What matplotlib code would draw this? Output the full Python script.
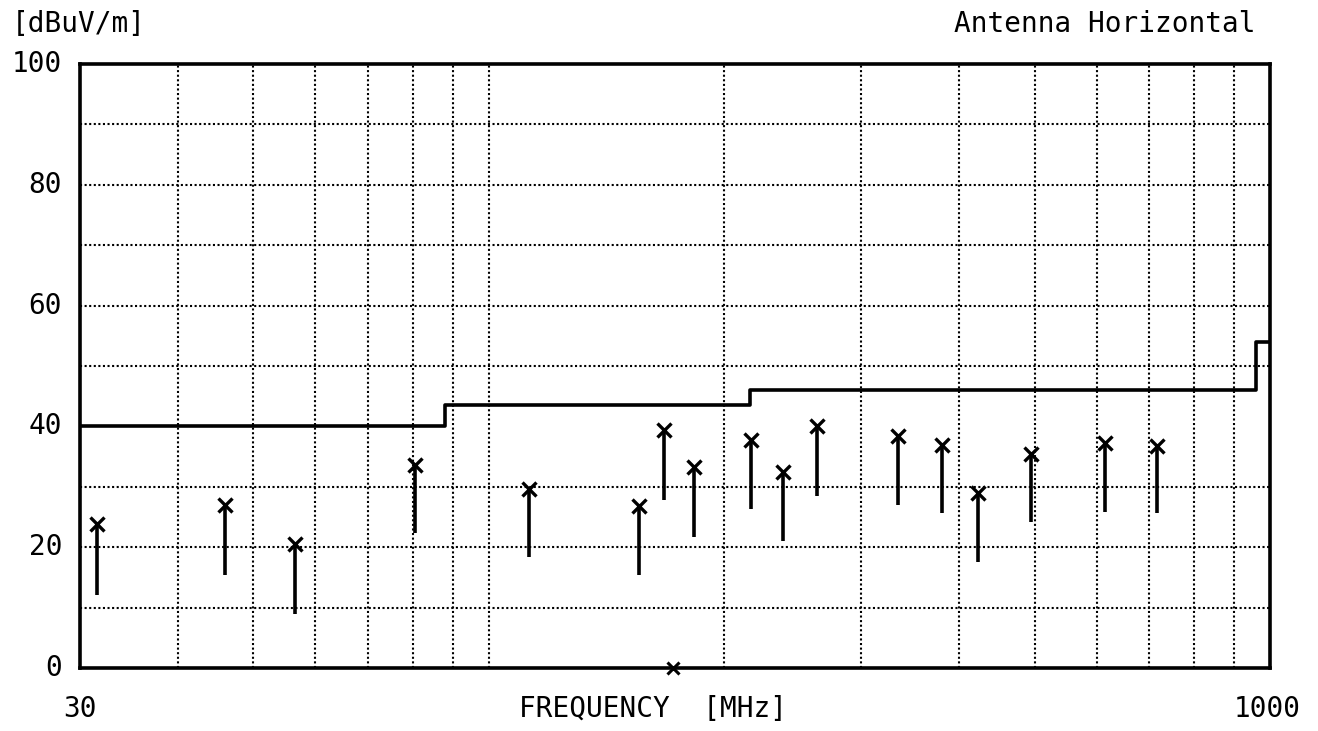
import matplotlib
matplotlib.use("Agg")
import matplotlib.pyplot as plt

# limit line (step, value held until next edge)
limit_freq = [30, 88, 216, 960, 1000]
limit_level = [40, 43.5, 46, 54, 54]

# measured emissions: peak (x marker) and lower reading (bottom of stick)
freq = [31.5, 46.0, 56.5, 80.5, 112.6, 155.8, 167.7, 183.2, 217, 238,
        263, 334, 380, 423, 495, 615, 716]
peak = [23.8, 27.0, 20.6, 33.6, 29.7, 26.9, 39.4, 33.2, 37.7, 32.5,
        40.0, 38.4, 36.9, 28.9, 35.5, 37.2, 36.8]
low = [12.1, 15.4, 9.0, 22.3, 18.3, 15.4, 27.8, 21.7, 26.3, 21.1,
       28.4, 27.0, 25.6, 17.5, 24.2, 25.9, 25.6]

# single marker sitting on the axis
extra_freq = [172]
extra_level = [0]

grid_x = [40, 50, 60, 70, 80, 90, 100, 200, 300, 400, 500, 600, 700, 800, 900]
y_labels = [0, 20, 40, 60, 80, 100]
grid_y = [10, 20, 30, 50, 60, 70, 80, 90]

font = "DejaVu Sans Mono"
fs = 20

fig = plt.figure(figsize=(13.18, 7.31), dpi=100)
ax = fig.add_axes([80 / 1318, 63 / 731, 1190 / 1318, 604 / 731])

ax.set_xscale("log")
ax.set_xlim(30, 1000)
ax.set_ylim(0, 100)

dot = (0, (1, 1.2))
for gx in grid_x:
    ax.axvline(gx, color="black", lw=1.5, ls=dot, zorder=1)
for gy in grid_y:
    ax.axhline(gy, color="black", lw=1.5, ls=dot, zorder=1)

ax.step(limit_freq, limit_level, where="post", color="black", lw=2.6, zorder=3)

ax.vlines(freq, low, peak, color="black", lw=2.6, zorder=3)
ax.plot(freq, peak, "x", color="black", ms=10, mew=2.4, zorder=4)
ax.plot(extra_freq, extra_level, "x", color="black", ms=9, mew=2.2, zorder=4,
        clip_on=False)

ax.set_xticks([])
ax.set_xticks([], minor=True)
ax.set_yticks([])
for sp in ax.spines.values():
    sp.set_linewidth(2.6)
    sp.set_color("black")

for v in y_labels:
    ax.text(-0.015, v / 100, str(v), transform=ax.transAxes, ha="right",
            va="center", fontsize=fs, family=font)

fig.text(12 / 1318, 1 - 24 / 731, "[dBuV/m]", ha="left", va="center",
         fontsize=fs, family=font)
fig.text(1256 / 1318, 1 - 24 / 731, "Antenna Horizontal", ha="right",
         va="center", fontsize=fs, family=font)
fig.text(80 / 1318, 1 - 709 / 731, "30", ha="center", va="center",
         fontsize=fs, family=font)
fig.text(1267 / 1318, 1 - 709 / 731, "1000", ha="center", va="center",
         fontsize=fs, family=font)
fig.text(653 / 1318, 1 - 709 / 731, "FREQUENCY  [MHz]", ha="center",
         va="center", fontsize=fs, family=font)

fig.savefig("out.png", dpi=100)
